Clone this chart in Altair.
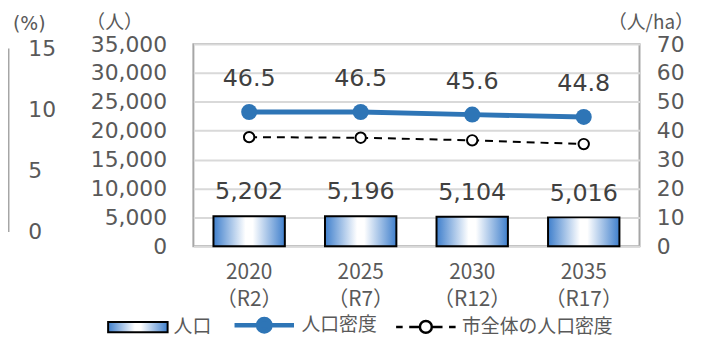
import altair as alt
import pandas as pd

# ---- data ----
categories = ["2020\n（R2）", "2025\n（R7）", "2030\n（R12）", "2035\n（R17）"]
population = [5202, 5196, 5104, 5016]
density = [46.5, 46.5, 45.6, 44.8]
city_density = [37.8, 37.6, 36.7, 35.4]
series_names = ["人口", "人口密度", "市全体の人口密度"]
left_ticks = [0, 5000, 10000, 15000, 20000, 25000, 30000, 35000]
right_ticks = [0, 10, 20, 30, 40, 50, 60, 70]
remnant_ticks = [0, 5, 10, 15]

FONT = "DejaVu Sans, Noto Sans CJK JP"
JP = "Noto Sans CJK JP, DejaVu Sans"
BLUE = "#2e75b6"
BARBLUE = "#3f7fcc"
LABEL = "#595959"
DARK = "#404040"

df = pd.DataFrame({"cat": categories, "pop": population,
                   "dens": density, "city": city_density})

x = alt.X("cat:N", sort=categories,
          scale=alt.Scale(paddingInner=0.36, paddingOuter=0.18),
          axis=alt.Axis(title=None, labelExpr="split(datum.label, '\\n')",
                        labelAngle=0, labelFontSize=21, labelColor=LABEL,
                        labelFont=JP, labelPadding=15, labelLineHeight=28,
                        ticks=False, domain=False))

grad = alt.Gradient(gradient="linear",
                    stops=[alt.GradientStop(color=BARBLUE, offset=0),
                           alt.GradientStop(color="#ffffff", offset=0.45),
                           alt.GradientStop(color="#ffffff", offset=0.55),
                           alt.GradientStop(color=BARBLUE, offset=1)],
                    x1=0, x2=1, y1=0, y2=0)

y_left = alt.Y("pop:Q", scale=alt.Scale(domain=[0, 35000]),
               axis=alt.Axis(orient="left", values=left_ticks, format=",.0f",
                             labelFontSize=22, labelColor=LABEL, labelFont=FONT,
                             labelPadding=27, ticks=False, domain=False,
                             labelOverlap=False, labelFlush=False,
                             grid=True, gridColor="#d9d9d9", gridWidth=2,
                             title="（人）", titleAngle=0, titleFontSize=19,
                             titleFont=JP, titleColor=LABEL, titleFontWeight="normal",
                             titleX=-80, titleY=-22, titleAlign="center",
                             titleBaseline="middle"))

bars = alt.Chart(df).mark_bar(color=grad, stroke="black", strokeWidth=2).encode(
    x=x, y=y_left)
bar_text = alt.Chart(df).mark_text(dy=-24, fontSize=24, font=FONT, color=DARK,
                                   baseline="middle").encode(
    x=x, y=y_left, text=alt.Text("pop:Q", format=",.0f"))
left = alt.layer(bars, bar_text)

right_axis = alt.Axis(orient="right", values=right_ticks, format=".0f",
                      labelFontSize=22, labelColor=LABEL, labelFont=FONT,
                      labelPadding=17, ticks=False, domain=False, grid=False,
                      labelOverlap=False, labelFlush=False,
                      title="（人/ha）", titleAngle=0, titleFontSize=19,
                      titleFont=JP, titleColor=LABEL, titleFontWeight="normal",
                      titleX=11, titleY=-22, titleAlign="center",
                      titleBaseline="middle")
y_right = alt.Y("dens:Q", scale=alt.Scale(domain=[0, 70]), axis=right_axis)
y_city = alt.Y("city:Q", scale=alt.Scale(domain=[0, 70]), axis=right_axis)

dens_line = alt.Chart(df).mark_line(color=BLUE, strokeWidth=5).encode(x=x, y=y_right)
dens_pts = alt.Chart(df).mark_point(filled=True, color=BLUE, size=260, opacity=1).encode(
    x=x, y=y_right)
dens_text = alt.Chart(df).mark_text(dy=-33, fontSize=24, font=FONT, color=DARK,
                                    baseline="middle").encode(
    x=x, y=y_right, text=alt.Text("dens:Q", format=".1f"))
city_line = alt.Chart(df).mark_line(color="black", strokeWidth=2,
                                    strokeDash=[8, 6]).encode(x=x, y=y_city)
city_pts = alt.Chart(df).mark_point(filled=True, fill="white", stroke="black",
                                    strokeWidth=2, size=110, opacity=1).encode(
    x=x, y=y_city)
right = alt.layer(dens_line, city_line, dens_pts, city_pts, dens_text)

# remnant of the neighbouring chart at the far left of the picture
rem_df = pd.DataFrame({"v": remnant_ticks})
remnant = alt.Chart(rem_df).mark_point(opacity=0).encode(
    y=alt.Y("v:Q", scale=alt.Scale(domain=[0, 15], range=[189, 4]),
            axis=alt.Axis(orient="left", offset=187, values=remnant_ticks,
                          labelFontSize=22, labelColor=LABEL, labelFont=FONT,
                          labelAlign="left", labelPadding=-20, ticks=False,
                          labelOverlap=False, labelFlush=False,
                          domain=True, domainColor="#a6a6a6", domainWidth=2,
                          grid=False, title="(%)", titleAngle=0, titleFontSize=19,
                          titleFont=FONT, titleColor=LABEL, titleFontWeight="normal",
                          titleX=21, titleY=-21, titleAlign="center",
                          titleBaseline="middle")))

# legend
P_BAR = "M-1,-0.17H1V0.17H-1Z"
P_LINE = "M-1,0H1M0.21,0A0.21,0.21,0,1,1,-0.21,0A0.21,0.21,0,1,1,0.21,0Z"
P_DASH = ("M-1,0H-0.78M-0.56,0H-0.2M0.2,0H0.56M0.78,0H1"
          "M0.2,0A0.2,0.2,0,1,1,-0.2,0A0.2,0.2,0,1,1,0.2,0Z")
grad_expr = ("{gradient: 'linear', x1: 0, y1: 0, x2: 1, y2: 0, stops: ["
             "{offset: 0, color: '" + BARBLUE + "'}, {offset: 0.45, color: '#ffffff'}, "
             "{offset: 0.55, color: '#ffffff'}, {offset: 1, color: '" + BARBLUE + "'}]}")

leg = alt.Legend(title=None, orient="none", legendX=-87, legendY=251,
                 direction="horizontal", symbolSize=3600, symbolOpacity=1,
                 labelFontSize=19, labelFont=JP, labelColor=LABEL,
                 labelOffset=5, columnPadding=13)
leg_df = pd.DataFrame({"s": series_names})
legend_layer = alt.Chart(leg_df).mark_point(opacity=0).encode(
    shape=alt.Shape("s:N", scale=alt.Scale(domain=series_names,
                                           range=[P_BAR, P_LINE, P_DASH]), legend=leg),
    fill=alt.Fill("s:N", scale=alt.Scale(domain=series_names,
                                         range=[{"expr": grad_expr}, BLUE, "white"]),
                  legend=leg),
    stroke=alt.Stroke("s:N", scale=alt.Scale(domain=series_names,
                                             range=["black", BLUE, "black"]), legend=leg),
    strokeWidth=alt.StrokeWidth("s:N", scale=alt.Scale(type="ordinal", domain=series_names,
                                                       range=[2, 4.5, 2.5]), legend=leg),
)

chart = alt.layer(left, right, remnant, legend_layer).resolve_scale(
    y="independent"
).properties(
    width=450, height=204,
    autosize=alt.AutoSizeParams(type="none"),
    padding={"left": 187, "top": 35, "right": 58, "bottom": 90},
).configure_view(stroke="#a6a6a6", strokeWidth=2
).configure_axis(labelOverlap=False)

chart.save("out.html", embed_options={"renderer": "svg", "actions": False})
